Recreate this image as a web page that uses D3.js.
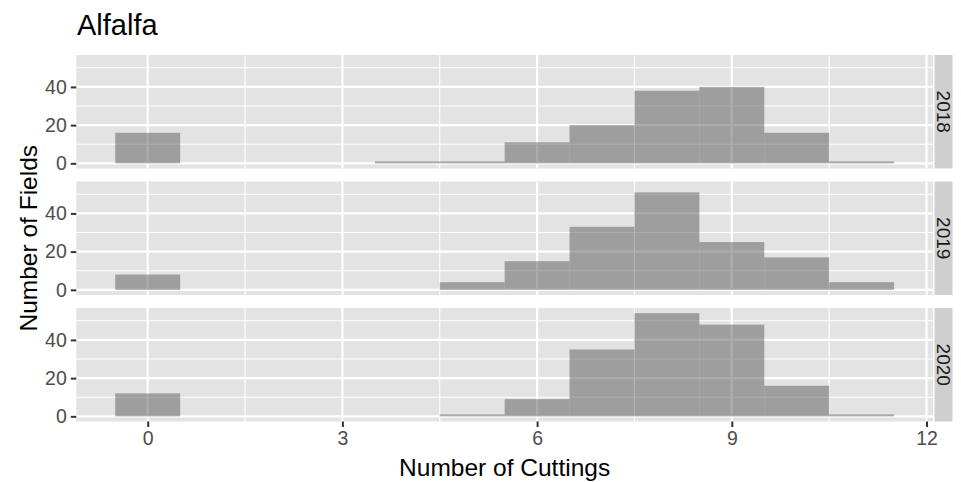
<!DOCTYPE html>
<html lang="en">
<head>
    <meta charset="utf-8" />
    <style>
        body { margin: 0; background: #fff; }
        svg { font-family: "Liberation Sans", Arial, sans-serif; }
        .grid-major { stroke: #fff; stroke-width: 2.2px; }
        .grid-minor { stroke: #fff; stroke-width: 1.1px; }
        .bar { fill: #595959; fill-opacity: 0.5; }
        .tick-label { fill: #4d4d4d; font-size: 19.5px; }
        .axis-title { fill: #000; font-size: 24.5px; }
        .strip-text { fill: #1a1a1a; font-size: 19px; }
    </style>
</head>
<body>
<svg width="961" height="482"></svg>
<script src="https://cdn.jsdelivr.net/npm/d3@7"></script>
<script>

    var cuttings = [0, 1, 2, 3, 4, 5, 6, 7, 8, 9, 10, 11],
        years = ["2018", "2019", "2020"],
        counts2018 = [16, 0, 0, 0, 1, 1, 11, 20, 38, 40, 16, 1],
        counts2019 = [8, 0, 0, 0, 0, 4, 15, 33, 51, 25, 17, 4],
        counts2020 = [12, 0, 0, 0, 0, 1, 9, 35, 54, 48, 16, 1],
        xTicks = [0, 3, 6, 9, 12],
        yTicks = [0, 20, 40];

    var counts = [counts2018, counts2019, counts2020];

    var svg = d3.select("svg"),
        left = 76.3,
        right = 933,
        panelH = 113.5,
        panelTops = [55, 181.5, 308],
        stripRight = 952.5;

    var x = d3.scaleLinear().domain([-1.1, 12.1]).range([left, right]);

    var maxCount = d3.max(counts, function(c) { return d3.max(c); }),
        pad = maxCount * 0.05;

    svg.append("text")
        .attr("x", 77)
        .attr("y", 35)
        .attr("font-size", "29px")
        .text("Alfalfa");

    years.forEach(function(year, i) {

        var top = panelTops[i],
            y = d3.scaleLinear().domain([-pad, maxCount + pad]).range([top + panelH, top]),
            g = svg.append("g");

        g.append("rect")
            .attr("x", left)
            .attr("y", top)
            .attr("width", right - left)
            .attr("height", panelH)
            .attr("fill", "#e3e3e3");

        // minor grid
        g.selectAll(".gx-minor")
            .data(xTicks.slice(0, -1).map(function(d) { return d + 1.5; }))
            .enter().append("line")
            .attr("class", "grid-minor")
            .attr("x1", x).attr("x2", x)
            .attr("y1", top).attr("y2", top + panelH);

        g.selectAll(".gy-minor")
            .data([10, 30, 50])
            .enter().append("line")
            .attr("class", "grid-minor")
            .attr("x1", left).attr("x2", right)
            .attr("y1", y).attr("y2", y);

        // major grid
        g.selectAll(".gx-major")
            .data(xTicks)
            .enter().append("line")
            .attr("class", "grid-major")
            .attr("x1", x).attr("x2", x)
            .attr("y1", top).attr("y2", top + panelH);

        g.selectAll(".gy-major")
            .data(yTicks)
            .enter().append("line")
            .attr("class", "grid-major")
            .attr("x1", left).attr("x2", right)
            .attr("y1", y).attr("y2", y);

        g.selectAll(".bar")
            .data(cuttings.filter(function(c) { return counts[i][c] > 0; }))
            .enter().append("rect")
            .attr("class", "bar")
            .attr("x", function(c) { return x(c - 0.5); })
            .attr("width", function(c) { return x(c + 0.5) - x(c - 0.5); })
            .attr("y", function(c) { return y(counts[i][c]); })
            .attr("height", function(c) { return y(0) - y(counts[i][c]); });

        // y axis
        var yAxis = g.append("g")
            .attr("transform", "translate(" + left + ",0)")
            .call(d3.axisLeft(y).tickValues(yTicks).tickSize(5.5).tickPadding(4));
        yAxis.select(".domain").remove();
        yAxis.selectAll(".tick line").attr("stroke", "#333").attr("stroke-width", 2);
        yAxis.selectAll(".tick text")
            .attr("class", "tick-label")
            .attr("font-family", null)
            .attr("font-size", null)
            .attr("fill", null);

        // strip
        g.append("rect")
            .attr("x", right + 1.5)
            .attr("y", top)
            .attr("width", stripRight - right - 1.5)
            .attr("height", panelH)
            .attr("fill", "#cfcfcf");

        g.append("text")
            .attr("class", "strip-text")
            .attr("text-anchor", "middle")
            .attr("dominant-baseline", "central")
            .attr("transform", "translate(" + ((right + 1.5 + stripRight) / 2) + "," + (top + panelH / 2) + ") rotate(90)")
            .text(year);
    });

    var bottom = panelTops[2] + panelH;

    var xAxis = svg.append("g")
        .attr("transform", "translate(0," + bottom + ")")
        .call(d3.axisBottom(x).tickValues(xTicks).tickSize(5.5).tickPadding(4));
    xAxis.select(".domain").remove();
    xAxis.selectAll(".tick line").attr("stroke", "#333").attr("stroke-width", 2);
    xAxis.selectAll(".tick text")
        .attr("class", "tick-label")
        .attr("font-family", null)
        .attr("font-size", null)
        .attr("fill", null);

    svg.append("text")
        .attr("class", "axis-title")
        .attr("x", (left + right) / 2)
        .attr("y", 476)
        .attr("text-anchor", "middle")
        .text("Number of Cuttings");

    svg.append("text")
        .attr("class", "axis-title")
        .attr("text-anchor", "middle")
        .attr("transform", "translate(37," + (panelTops[0] + bottom) / 2 + ") rotate(-90)")
        .text("Number of Fields");

</script>
</body>
</html>
